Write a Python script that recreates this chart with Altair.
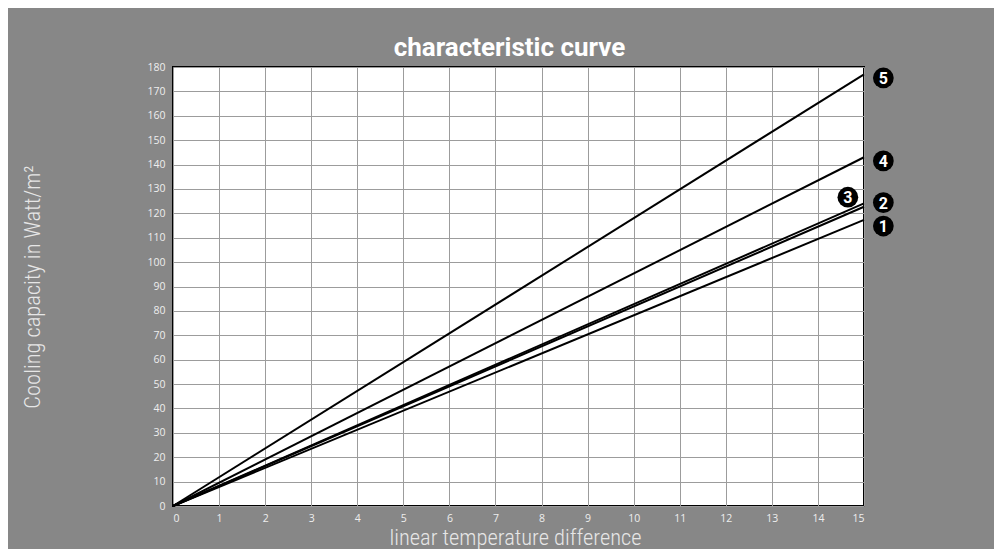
import altair as alt
import pandas as pd

# ---- data ----
series = ["1", "2", "3", "4", "5"]
x_start = [0, 0, 0, 0, 0]
y_start = [0, 0, 0, 0, 0]
x_end = [15, 15, 15, 15, 15]
y_end = [117.3, 122.7, 124.1, 143.0, 177.0]
# label anchors (data units)
label_x = [15.42, 15.42, 14.65, 15.42, 15.42]
label_y = [114.8, 124.4, 126.6, 141.5, 175.5]

x_ticks = list(range(0, 16))
y_ticks = list(range(0, 190, 10))

rows = []
for s, x0, y0, x1, y1 in zip(series, x_start, y_start, x_end, y_end):
    rows.append({"series": s, "x": x0, "y": y0, "order": 0})
    rows.append({"series": s, "x": x1, "y": y1, "order": 1})
lines_df = pd.DataFrame(rows)
labels_df = pd.DataFrame({"series": series, "x": label_x, "y": label_y})

TICK_FONT = "Open Sans"
AXIS_TITLE_FONT = "Roboto Condensed, Roboto"
TITLE_FONT = "Roboto"


def x_axis():
    return alt.Axis(
        values=x_ticks, title="linear temperature difference", grid=True,
        gridColor="#9c9c9c", gridWidth=1, domain=False, ticks=False,
        labelColor="#eeeeee", labelFont=TICK_FONT, labelFontSize=10.5, labelPadding=7,
        labelOverlap=False,
        titleColor="#e6e6e6", titleFont=AXIS_TITLE_FONT, titleFontSize=22.5, titleFontWeight=300,
        titleX=342, titleY=38, titleBaseline="alphabetic", titleAnchor="middle",
    )


def y_axis():
    return alt.Axis(
        values=y_ticks, title="Cooling capacity in Watt/m²", grid=True,
        gridColor="#9c9c9c", gridWidth=1, domain=False, ticks=False,
        labelColor="#eeeeee", labelFont=TICK_FONT, labelFontSize=10.5, labelPadding=8,
        labelOverlap=False,
        titleColor="#e6e6e6", titleFont=AXIS_TITLE_FONT, titleFontSize=22.5, titleFontWeight=300,
        titleX=-134, titleY=219.5, titleBaseline="alphabetic", titleAngle=270,
    )


def x_enc():
    return alt.X("x:Q", scale=alt.Scale(domain=[0, 15], nice=False), axis=x_axis())


def y_enc():
    return alt.Y("y:Q", scale=alt.Scale(domain=[0, 180], nice=False), axis=y_axis())


lines = alt.Chart(lines_df).mark_line(color="black", strokeWidth=2).encode(
    x=x_enc(), y=y_enc(), detail="series:N", order="order:Q",
)

circles = alt.Chart(labels_df).mark_point(
    shape="circle", filled=True, color="black", size=430, opacity=1
).encode(x=x_enc(), y=y_enc())

texts = alt.Chart(labels_df).mark_text(
    color="white", font="Roboto", fontWeight="bold", fontSize=16, baseline="middle", dy=1
).encode(x=x_enc(), y=y_enc(), text="series:N")

chart = alt.layer(lines, circles, texts).properties(
    width=691, height=439,
    title=alt.TitleParams(
        "characteristic curve", font=TITLE_FONT, fontSize=26, fontWeight="bold",
        color="white", anchor="middle", dx=-9, offset=-20, baseline="alphabetic",
    ),
    autosize=alt.AutoSizeParams(type="none"),
    padding={"left": 165, "top": 59, "right": 130, "bottom": 43},
    background="#878787",
).configure_view(fill="white", stroke="black", strokeWidth=2)

chart.save("out.html", embed_options={"renderer": "svg", "actions": False})
